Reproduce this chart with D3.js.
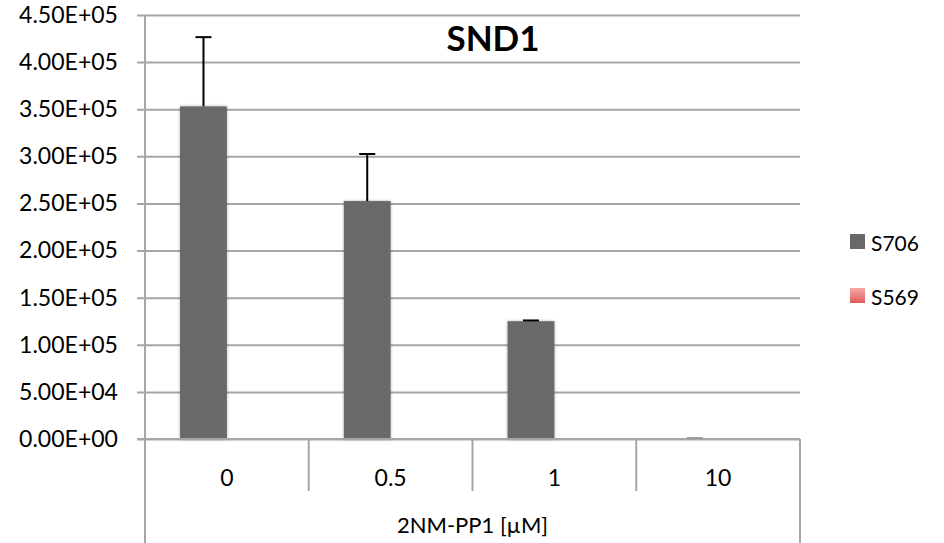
<!DOCTYPE html>
<html><head><meta charset="utf-8">
<script src="https://cdn.jsdelivr.net/npm/d3@7"></script>
<style>body{margin:0;background:#fff}svg{display:block}</style>
</head><body>
<script>
const categories = ["0", "0.5", "1", "10"];
const seriesNames = ["S706", "S569"];
const s706 = [353000, 252500, 125000, 600];
const s706Err = [73500, 50000, 800, 400];
const s569 = [0, 0, 0, 0];
const s569Err = [0, 0, 0, 0];
const yTicks = [0, 50000, 100000, 150000, 200000, 250000, 300000, 350000, 400000, 450000];
const title = "SND1";
const xTitle = "2NM-PP1 [µM]";

const W = 944, H = 543;
const svg = d3.select("body").append("svg").attr("width", W).attr("height", H);
const font = "Lato, 'Open Sans', sans-serif";

const defs = svg.append("defs");
const grad = defs.append("linearGradient").attr("id", "pink").attr("x1", 0).attr("y1", 0).attr("x2", 0).attr("y2", 1);
grad.append("stop").attr("offset", "0%").attr("stop-color", "#f7a9a8");
grad.append("stop").attr("offset", "100%").attr("stop-color", "#e05b5b");
const f = defs.append("filter").attr("id", "shadow").attr("x", "-20%").attr("y", "-5%").attr("width", "140%").attr("height", "110%");
f.append("feGaussianBlur").attr("in", "SourceAlpha").attr("stdDeviation", 1.5).attr("result", "b");
f.append("feComponentTransfer").attr("in", "b").attr("result", "t").append("feFuncA").attr("type", "linear").attr("slope", 0.35);
const m = f.append("feMerge"); m.append("feMergeNode").attr("in", "t"); m.append("feMergeNode").attr("in", "SourceGraphic");

const x0 = 145, x1 = 800, yTop = 15, yBot = 439;
const y = d3.scaleLinear().domain([0, 450000]).range([yBot, yTop]);
const x = d3.scaleBand().domain(categories).range([x0, x1]).padding(0);
const bw = x.bandwidth() / (2 + 1.5);
const xs = d3.scaleBand().domain(seriesNames).range([0.75 * bw, 2.75 * bw]).padding(0);

const fmt = v => {
  const e = v === 0 ? 0 : Math.floor(Math.log10(v));
  const mant = v / Math.pow(10, e);
  return mant.toFixed(2) + "E" + (e >= 0 ? "+" : "-") + String(Math.abs(e)).padStart(2, "0");
};

// gridlines + tick labels
const yAxis = d3.axisLeft(y).tickValues(yTicks).tickFormat(fmt).tickSize(x1 - x0 + 8).tickSizeOuter(0);
const gy = svg.append("g").attr("transform", `translate(${x1},0)`).call(yAxis);
gy.select(".domain").remove();
gy.selectAll(".tick line").attr("stroke", "#a6a6a6").attr("stroke-width", 2);
gy.selectAll(".tick text").attr("font-family", font).attr("font-size", 23).attr("fill", "#000")
  .attr("x", 0)
  .each(function() {
    const w = this.getComputedTextLength();
    const sx = w > 0 ? 99 / w : 1;
    d3.select(this).attr("transform", `translate(${-(x1 - x0 + 8) - 19},0) scale(${sx},1)`);
  });

// axis lines
svg.append("line").attr("x1", x0).attr("x2", x0).attr("y1", yTop).attr("y2", H).attr("stroke", "#a6a6a6").attr("stroke-width", 2);
svg.append("line").attr("x1", x1).attr("x2", x1).attr("y1", yBot).attr("y2", H).attr("stroke", "#a6a6a6").attr("stroke-width", 2);
const bounds = categories.slice(1).map(c => x(c));
svg.selectAll(".cb").data(bounds).join("line").attr("x1", d => d).attr("x2", d => d)
  .attr("y1", yBot).attr("y2", 491).attr("stroke", "#a6a6a6").attr("stroke-width", 2);

// bars
const series = [
  {name: "S706", vals: s706, err: s706Err, fill: "#696969"},
  {name: "S569", vals: s569, err: s569Err, fill: "url(#pink)"}
];
series.forEach(s => {
  svg.append("g").selectAll("rect").data(categories.map((c, i) => ({c, v: s.vals[i]}))).join("rect")
    .attr("x", d => x(d.c) + xs(s.name)).attr("width", xs.bandwidth())
    .attr("y", d => y(d.v)).attr("height", d => y(0) - y(d.v))
    .attr("fill", s.fill).attr("filter", "url(#shadow)");
});
svg.append("line").attr("x1", x0 - 8).attr("x2", x1).attr("y1", yBot).attr("y2", yBot).attr("stroke", "#a6a6a6").attr("stroke-width", 2);

// error bars
series.forEach(s => {
  const data = categories.map((c, i) => ({c, v: s.vals[i], e: s.err[i]})).filter(d => d.e > 0);
  const g = svg.append("g").attr("stroke-width", 2);
  data.forEach(d => {
    const cx = x(d.c) + xs(s.name) + xs.bandwidth() / 2;
    const col = (y(d.v) - y(d.v + d.e)) < 2 && d.v < 5000 ? "#9a9a9a" : "#000";
    g.append("line").attr("stroke", col).attr("x1", cx).attr("x2", cx).attr("y1", y(d.v)).attr("y2", y(d.v + d.e));
    g.append("line").attr("stroke", col).attr("x1", cx - 8).attr("x2", cx + 8).attr("y1", y(d.v + d.e)).attr("y2", y(d.v + d.e));
  });
});

// category labels
svg.selectAll(".cl").data(categories).join("text")
  .attr("x", d => x(d) + x.bandwidth() / 2).attr("y", 486)
  .attr("text-anchor", "middle").attr("font-family", font).attr("font-size", 23).text(d => d);

svg.append("text").attr("x", (x0 + x1) / 2).attr("y", 533).attr("text-anchor", "middle")
  .attr("font-family", font).attr("font-size", 22).text(xTitle);

svg.append("text").attr("x", 493).attr("y", 51).attr("text-anchor", "middle")
  .attr("font-family", font).attr("font-weight", "bold").attr("font-size", 35).text(title);

// legend
const leg = svg.append("g");
series.forEach((s, i) => {
  const ly = 234 + i * 54;
  leg.append("rect").attr("x", 850).attr("y", ly).attr("width", 15).attr("height", 15).attr("fill", s.fill);
  leg.append("text").attr("x", 871).attr("y", ly + 17).attr("font-family", font).attr("font-size", 21).text(s.name);
});
</script>
</body></html>
